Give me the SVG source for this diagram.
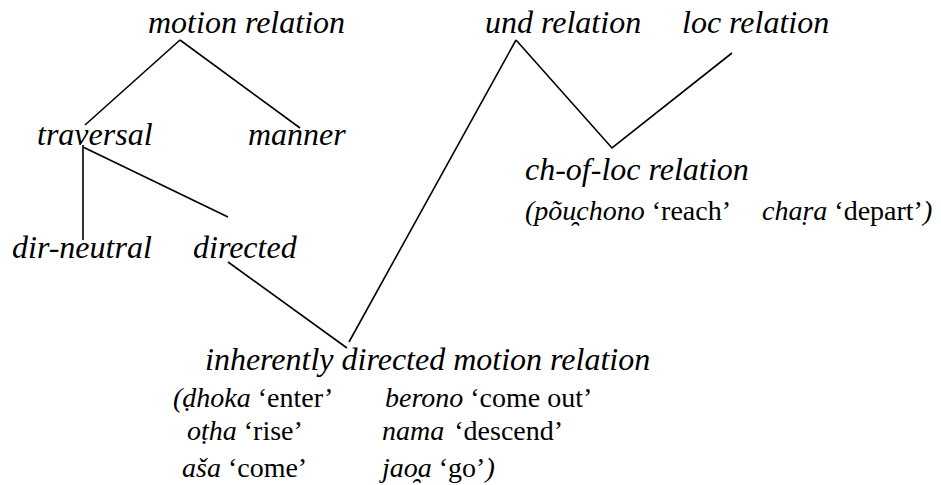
<svg xmlns="http://www.w3.org/2000/svg" width="941" height="485" viewBox="0 0 941 485">
<style>
.r{font-style:normal}
.ex{font-size:28px}
#connectors line,#connectors polyline{stroke:#000;stroke-width:1.6;fill:none}
</style>
<rect width="941" height="485" fill="#fff"/>
<g id="connectors">
<line x1="180" y1="40" x2="85" y2="125"/>
<line x1="180" y1="40" x2="300" y2="128"/>
<line x1="83" y1="145" x2="83" y2="240"/>
<line x1="83" y1="147" x2="228" y2="217"/>
<line x1="228" y1="262" x2="347" y2="348"/>
<line x1="349" y1="342" x2="516" y2="40"/>
<polyline points="516,40 612,148 732,53"/>
</g>
<g font-family="Liberation Serif" font-size="32" font-style="italic" fill="#000">
<g id="motion-relation"><text x="148" y="33">motion relation</text></g>
<g id="und-relation"><text x="485" y="33">und relation</text></g>
<g id="loc-relation"><text x="682" y="33">loc relation</text></g>
<g id="traversal"><text x="37" y="145">traversal</text></g>
<g id="manner"><text x="248" y="145">manner</text></g>
<g id="ch-of-loc"><text x="525" y="180">ch-of-loc relation</text>
<text class="ex" x="525" y="220">(põu̯chono<tspan class="r"> ‘reach’</tspan><tspan x="762">chaṛa</tspan><tspan class="r"> ‘depart’</tspan>)</text></g>
<g id="dir-neutral"><text x="12" y="258">dir-neutral</text></g>
<g id="directed"><text x="193" y="258">directed</text></g>
<g id="inherently-directed"><text x="205" y="370">inherently directed motion relation</text>
<text class="ex" x="173" y="407">(ḍhoka<tspan class="r"> ‘enter’</tspan></text>
<text class="ex" x="385" y="407">berono<tspan class="r"> ‘come out’</tspan></text>
<text class="ex" x="187" y="440">oṭha<tspan class="r"> ‘rise’</tspan></text>
<text class="ex" x="382" y="440">nama<tspan class="r" dx="3"> ‘descend’</tspan></text>
<text class="ex" x="182" y="477">aša<tspan class="r"> ‘come’</tspan></text>
<text class="ex" x="382" y="477">jao̯a<tspan class="r"> ‘go’</tspan>)</text></g>
</g>
</svg>
